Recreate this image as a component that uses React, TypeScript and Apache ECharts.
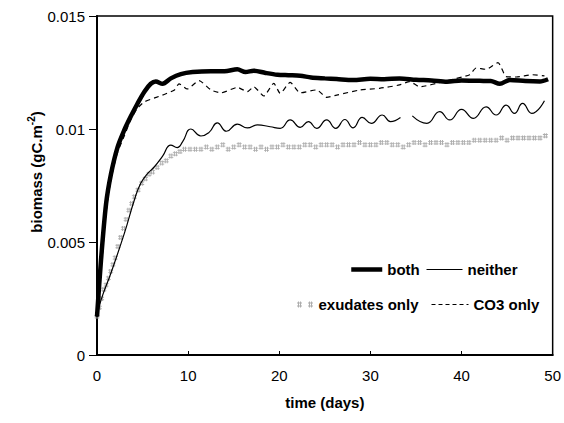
import { useEffect, useRef } from 'react';
import * as echarts from 'echarts';

// time (days) and biomass (gC.m-2)
const bothT = [0, 0.44, 1, 1.53, 2.26, 3, 3.7, 4.45, 5.2, 5.9, 6.45, 7.2, 8.1, 9.2, 10.5, 12.5, 14, 15.4, 16.3, 17.2, 18.5, 19.8, 21, 22.3, 23.5, 25, 26.3, 28.1, 30, 31.5, 33.2, 35, 36.7, 38.4, 40, 42, 43.2, 44.2, 45.3, 47, 48.6, 49.5];
const bothV = [0.0017, 0.0042, 0.0067, 0.008, 0.0092, 0.00996, 0.01055, 0.01113, 0.01165, 0.012, 0.0121, 0.012, 0.01224, 0.01243, 0.01252, 0.01256, 0.01256, 0.01264, 0.01252, 0.01258, 0.01248, 0.0124, 0.01238, 0.01236, 0.01228, 0.01224, 0.01221, 0.01217, 0.01222, 0.0122, 0.01224, 0.01218, 0.01215, 0.01209, 0.01215, 0.01213, 0.01212, 0.012, 0.01217, 0.01212, 0.0121, 0.0122];

const neitherT = [0, 0.44, 1.53, 3, 4.1, 4.8, 5.5, 6.3, 7.2, 8.1, 8.8, 9.4, 10.3, 11.4, 12.3, 13.2, 14.2, 15.4, 16.5, 17.6, 19.0, 20.1, 21.2, 22.3, 23.2, 24.1, 25.2, 26.2, 27.2, 28.1, 29.1, 30.1, 31.3, 32.2, 33.3, 33.9, 34.6, 36.2, 37.6, 38.7, 40, 41.3, 42.7, 43.8, 44.9, 45.8, 46.7, 47.7, 49.1];
const neitherV = [0.0017, 0.00243, 0.00363, 0.00538, 0.00686, 0.0076, 0.008, 0.00833, 0.0088, 0.00929, 0.00918, 0.00944, 0.01, 0.00969, 0.00985, 0.01027, 0.0099, 0.01022, 0.01005, 0.01018, 0.0101, 0.01003, 0.0104, 0.01007, 0.01033, 0.01003, 0.0104, 0.01003, 0.01042, 0.01005, 0.01051, 0.01025, 0.01062, 0.01033, 0.01051, null, 0.01058, 0.01025, 0.01077, 0.0104, 0.01087, 0.01047, 0.01098, 0.01062, 0.01106, 0.01069, 0.01113, 0.01069, 0.01125];

const exudT = [0, 0.25, 0.5, 0.75, 1, 1.25, 1.5, 1.75, 2, 2.3, 2.6, 2.9, 3.2, 3.5, 3.8, 4.1, 4.5, 4.9, 5.3, 5.7, 6.1, 6.6, 7.1, 7.6, 8.1, 8.6, 9.1, 9.6, 10.2, 10.8, 11.4, 12.0, 12.6, 13.2, 13.8, 14.4, 15.0, 15.6, 16.2, 16.8, 17.4, 18.0, 18.6, 19.2, 19.8, 20.4, 21.0, 21.6, 22.2, 22.8, 23.4, 24.0, 24.6, 25.2, 25.8, 26.4, 27.0, 27.6, 28.2, 28.8, 29.4, 30.0, 30.6, 31.2, 31.8, 32.4, 33.0, 33.6, 34.2, 34.8, 35.4, 36.0, 36.6, 37.2, 37.8, 38.4, 39.0, 39.6, 40.2, 40.8, 41.4, 42.0, 42.6, 43.2, 43.8, 44.4, 45.0, 45.6, 46.2, 46.8, 47.4, 48.0, 48.6, 49.2];
const exudV = [0.0017, 0.0021, 0.0025, 0.0029, 0.0031, 0.0034, 0.0037, 0.004, 0.0043, 0.0048, 0.0052, 0.0056, 0.006, 0.0064, 0.0067, 0.007, 0.0073, 0.0076, 0.0078, 0.008, 0.0081, 0.0083, 0.0085, 0.0086, 0.0088, 0.0089, 0.009, 0.0091, 0.0091, 0.0091, 0.0091, 0.0092, 0.0091, 0.0092, 0.0093, 0.0091, 0.0092, 0.0093, 0.0092, 0.0092, 0.0091, 0.0092, 0.0091, 0.0092, 0.0092, 0.0093, 0.0092, 0.0092, 0.0092, 0.0093, 0.0093, 0.0092, 0.0093, 0.0093, 0.0093, 0.0092, 0.0093, 0.0093, 0.0093, 0.0094, 0.0093, 0.0093, 0.0093, 0.0094, 0.0094, 0.0093, 0.0093, 0.0092, 0.0093, 0.0094, 0.0094, 0.0093, 0.0094, 0.0094, 0.0094, 0.0093, 0.0094, 0.0094, 0.0094, 0.0094, 0.0095, 0.0095, 0.0095, 0.0095, 0.0095, 0.0096, 0.0095, 0.0096, 0.0096, 0.0096, 0.0096, 0.0096, 0.0096, 0.0097];

const co3T = [0, 0.5, 1, 1.5, 2.2, 3, 3.7, 4.4, 5.2, 6.5, 7.5, 8.5, 9.0, 9.9, 11.2, 12.5, 13.6, 15.4, 16.5, 17.2, 18.3, 19.4, 20.1, 21.2, 22.3, 24.1, 25.2, 26.3, 28.9, 31, 33.2, 34.3, 35.4, 38, 40.9, 41.6, 42.7, 44.0, 44.9, 46, 47.8, 49.1];
const co3V = [0.0017, 0.004, 0.0063, 0.0077, 0.0089, 0.0097, 0.0104, 0.0109, 0.0112, 0.0114, 0.01155, 0.01173, 0.012, 0.01177, 0.01214, 0.01173, 0.0116, 0.01184, 0.01165, 0.01187, 0.01146, 0.01202, 0.01158, 0.01206, 0.0116, 0.01173, 0.0114, 0.0115, 0.01173, 0.0118, 0.01195, 0.0121, 0.01187, 0.0121, 0.0124, 0.0127, 0.01264, 0.01294, 0.01232, 0.0123, 0.0124, 0.01235];

const seriesNames = ['both', 'neither', 'exudates only', 'CO3 only'];
const xMin = 0, xMax = 50, xStep = 10;
const yMin = 0, yMax = 0.015, yStep = 0.005;

export default function App() {
  const ref = useRef<HTMLDivElement>(null);
  useEffect(() => {
    const chart = echarts.init(ref.current!, null, { renderer: 'svg' });
    const font = "'Liberation Sans', Arial, Helvetica, sans-serif";
    const pair = (t: number[], v: (number | null)[]) => t.map((x, i) => [x, v[i] === null ? '-' : v[i]]);
    const hash = 'path://M0,1h5v1h-5z M0,4h5v1h-5z M1,0h1v6h-1z M3,0h1v6h-1z';
    const hash2 = 'path://M0,1h5v1h-5z M0,4h5v1h-5z M1,0h1v6h-1z M3,0h1v6h-1z M11,1h5v1h-5z M11,4h5v1h-5z M12,0h1v6h-1z M14,0h1v6h-1z';
    const legText = { fontSize: 15, fontWeight: 'bold', color: '#000', fontFamily: font };
    const noDot = { opacity: 0 };
    chart.setOption({
      animation: false,
      backgroundColor: '#fff',
      grid: { left: 97, right: 11, top: 16, bottom: 68, show: true, borderColor: '#000', borderWidth: 1.5, backgroundColor: 'transparent' },
      xAxis: {
        type: 'value', min: xMin, max: xMax, interval: xStep,
        axisLine: { lineStyle: { color: '#000', width: 2 } },
        axisTick: { inside: true, length: 4, lineStyle: { color: '#000' } },
        axisLabel: { fontSize: 15, color: '#000', margin: 13, fontFamily: font },
        splitLine: { show: false },
        name: 'time (days)', nameLocation: 'middle', nameGap: 40,
        nameTextStyle: { fontSize: 15, fontWeight: 'bold', color: '#000', fontFamily: font },
      },
      yAxis: {
        type: 'value', min: yMin, max: yMax, interval: yStep,
        axisLine: { show: true, lineStyle: { color: '#000', width: 2 } },
        axisTick: { show: true, length: 8, lineStyle: { color: '#000' } },
        axisLabel: { fontSize: 15, color: '#000', margin: 12, fontFamily: font },
        splitLine: { show: false },
      },
      legend: [
        { left: 349, top: 262, padding: 0, itemWidth: 31, itemHeight: 10, data: [seriesNames[0]], itemStyle: noDot, lineStyle: { width: 4.5, color: '#000' }, textStyle: legText },
        { left: 426, top: 262, padding: 0, itemWidth: 36, itemHeight: 10, data: [seriesNames[1]], itemStyle: noDot, lineStyle: { width: 1, color: '#000' }, textStyle: legText },
        { left: 297, top: 297, padding: 0, itemWidth: 17, itemHeight: 6, data: [{ name: seriesNames[2], icon: hash2 }], itemStyle: { color: '#999' }, textStyle: legText },
        { left: 431, top: 297, padding: 0, itemWidth: 37, itemHeight: 10, data: [seriesNames[3]], itemStyle: noDot, lineStyle: { width: 1, color: '#000', type: [4, 3] }, textStyle: legText },
      ],
      graphic: [
        {
          type: 'text', x: 36, y: 172, rotation: Math.PI / 2,
          style: {
            text: 'biomass (gC.m{sup|-2})', fontSize: 15, fontWeight: 'bold', fontFamily: font, fill: '#000',
            align: 'center', verticalAlign: 'middle',
            rich: { sup: { fontSize: 10, fontWeight: 'bold', fontFamily: font, fill: '#000', padding: [0, 0, 10, 0] } },
          },
        },
      ],
      series: [
        {
          name: seriesNames[2], type: 'scatter', data: pair(exudT, exudV),
          symbol: hash, symbolSize: [5, 5], itemStyle: { color: '#999' }, z: 1,
        },
        {
          name: seriesNames[3], type: 'line', data: pair(co3T, co3V), symbol: 'none', smooth: 0.2,
          itemStyle: { color: '#000' }, lineStyle: { color: '#000', width: 1.2, type: [5, 4] }, z: 2,
        },
        {
          name: seriesNames[1], type: 'line', data: pair(neitherT, neitherV), symbol: 'none', smooth: 0.5,
          connectNulls: false, itemStyle: { color: '#000' }, lineStyle: { color: '#000', width: 1.2 }, z: 3,
        },
        {
          name: seriesNames[0], type: 'line', data: pair(bothT, bothV), symbol: 'none', smooth: 0.3,
          itemStyle: { color: '#000' }, lineStyle: { color: '#000', width: 4.5 }, z: 4,
        },
      ],
    });
    return () => chart.dispose();
  }, []);
  return <div ref={ref} style={{ position: 'fixed', left: 0, top: 0, width: 564, height: 423, background: '#fff' }} />;
}
